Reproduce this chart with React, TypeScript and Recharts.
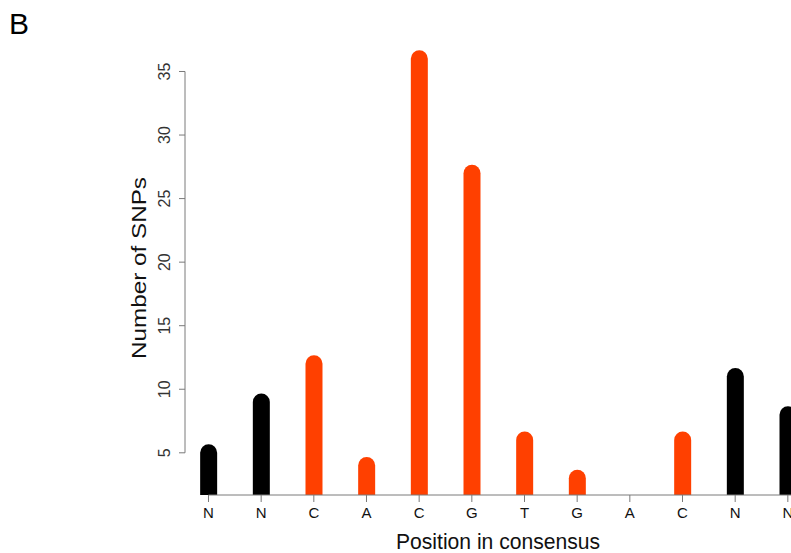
import React from "react";
import {
    BarChart, Bar, Cell, XAxis, YAxis, ReferenceLine, Label, Customized
} from "recharts";

// consensus positions, their letters and the SNP count at each one
const POSITIONS = [1, 2, 3, 4, 5, 6, 7, 8, 9, 10, 11, 12];
const LETTERS = ["N", "N", "C", "A", "C", "G", "T", "G", "A", "C", "N", "N"];
const SNP_COUNTS = [5, 9, 12, 4, 36, 27, 6, 3, 0, 6, 11, 8];
const Y_TICKS = [5, 10, 15, 20, 25, 30, 35];

const Y_MIN = 1.68;
const Y_MAX = 37.32;
const X_MIN = 0.554;
const X_MAX = 13.446;

const ORANGE = "#ff4000";
const AXIS_GREY = "#7a7a7a";
const FONT = "'Liberation Sans', Arial, Helvetica, sans-serif";

const data = POSITIONS.map((pos, i) => ({
    pos,
    letter: LETTERS[i],
    snps: SNP_COUNTS[i],
}));

// bar drawn like R's type="h" line with a round cap
const RoundBar = (props: any) => {
    const { x, y, width, height, payload } = props;
    if (payload.snps <= Y_MIN || height <= 0) return null;
    const r = width / 2;
    const d = `M${x},${y + height} L${x},${y} A${r},${r} 0 0 1 ${x + width},${y} L${x + width},${y + height} Z`;
    return <path d={d} fill={props.fill} />;
};

const YTick = (props: any) => {
    const { x, y, payload } = props;
    return (
        <text
            x={x}
            y={y}
            dy="0.35em"
            transform={`rotate(-90, ${x}, ${y})`}
            textAnchor="middle"
            fontSize={16}
            fontFamily={FONT}
            fill="#333"
        >
            {payload.value}
        </text>
    );
};

const XTick = (props: any) => {
    const { x, y, payload } = props;
    return (
        <text
            x={x}
            y={y}
            dy="0.71em"
            textAnchor="middle"
            fontSize={15}
            fontFamily={"'Liberation Sans Narrow', " + FONT}
            fill="#111"
        >
            {LETTERS[payload.value - 1]}
        </text>
    );
};

const PanelLetter = () => (
    <text x={9} y={34} fontSize={30} fontFamily={FONT} fill="#000">B</text>
);

const App = () => {
    return (
        <div style={{ position: "absolute", left: 0, top: 0, width: 791, height: 553, overflow: "hidden", background: "#fff" }}>
            <BarChart
                width={864}
                height={553}
                data={data}
                margin={{ top: 42, right: 0, bottom: 27, left: 100 }}
            >
                <XAxis
                    dataKey="pos"
                    type="number"
                    domain={[X_MIN, X_MAX]}
                    ticks={POSITIONS}
                    allowDataOverflow
                    axisLine={false}
                    tickSize={7}
                    tickMargin={5}
                    tickLine={{ stroke: AXIS_GREY }}
                    tick={<XTick />}
                    height={31}
                    interval={0}
                >
                    <Label
                        content={() => (
                            <text
                                x={498}
                                y={549}
                                textAnchor="middle"
                                fontSize={22}
                                textLength={204}
                                lengthAdjust="spacingAndGlyphs"
                                fontFamily={FONT}
                                fill="#111"
                            >
                                Position in consensus
                            </text>
                        )}
                    />
                </XAxis>
                <YAxis
                    type="number"
                    domain={[Y_MIN, Y_MAX]}
                    ticks={Y_TICKS}
                    allowDataOverflow
                    axisLine={false}
                    tickSize={6}
                    tickMargin={15}
                    tickLine={{ stroke: AXIS_GREY }}
                    tick={<YTick />}
                    width={85}
                    interval={0}
                >
                    <Label
                        content={() => (
                            <text
                                x={146}
                                y={268}
                                transform="rotate(-90, 146, 268)"
                                textAnchor="middle"
                                fontSize={20}
                                textLength={182}
                                lengthAdjust="spacingAndGlyphs"
                                fontFamily={FONT}
                                fill="#111"
                            >
                                Number of SNPs
                            </text>
                        )}
                    />
                </YAxis>
                <ReferenceLine
                    segment={[{ x: X_MIN, y: Y_TICKS[0] }, { x: X_MIN, y: Y_TICKS[Y_TICKS.length - 1] }]}
                    stroke={AXIS_GREY}
                    ifOverflow="visible"
                />
                <ReferenceLine
                    segment={[{ x: POSITIONS[0], y: Y_MIN }, { x: X_MAX, y: Y_MIN }]}
                    stroke={AXIS_GREY}
                    ifOverflow="visible"
                />
                <Bar dataKey="snps" barSize={17} shape={<RoundBar />} isAnimationActive={false}>
                    {data.map((d, i) => (
                        <Cell key={i} fill={d.letter === "N" ? "#000" : ORANGE} />
                    ))}
                </Bar>
                <Customized component={PanelLetter} />
            </BarChart>
        </div>
    );
};

export default App;
